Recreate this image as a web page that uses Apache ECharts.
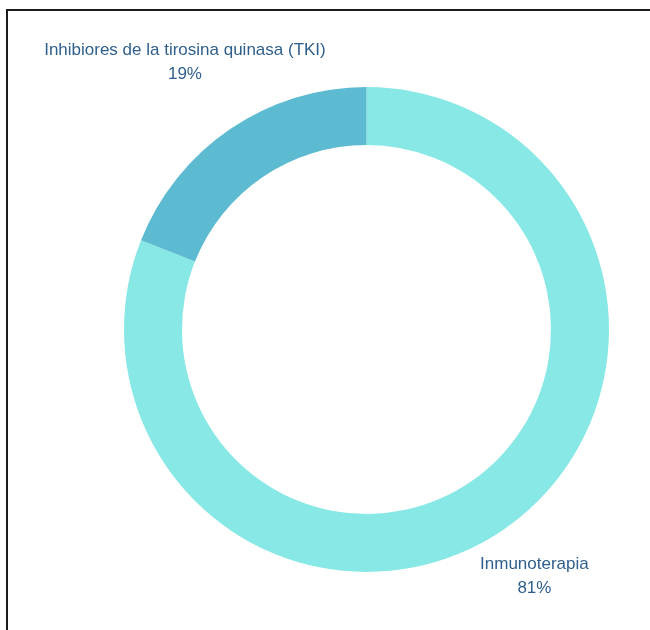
<!DOCTYPE html>
<html>
<head>
<meta charset="utf-8">
<script src="https://cdn.jsdelivr.net/npm/echarts@6/dist/echarts.min.js"></script>
<style>
  html, body { margin: 0; padding: 0; background: #fff; }
  #frame {
    position: absolute; left: 6px; top: 9px; width: 650px; height: 630px;
    border-top: 2px solid #1c1c1c; border-left: 2px solid #1c1c1c;
  }
  #chart { position: absolute; left: 0; top: 0; width: 650px; height: 630px; }
</style>
</head>
<body>
<div id="frame"></div>
<div id="chart"></div>
<script>
// Treatment split shown as a donut
const categories = ['Inmunoterapia', 'Inhibiores de la tirosina quinasa (TKI)'];
const shares = [81, 19];
const sliceColors = ['#87E8E6', '#5DBBD1'];

const CX = 366.5, CY = 329.5, R_OUT = 242.5, R_IN = 184.5;
const total = shares.reduce((a, b) => a + b, 0);

// Mid angle (radians, math convention) of each slice, clockwise from 12 o'clock
function midAngle(i) {
  let before = 0;
  for (let k = 0; k < i; k++) before += shares[k];
  const frac = (before + shares[i] / 2) / total;
  return Math.PI / 2 - frac * 2 * Math.PI;
}

const chart = echarts.init(document.getElementById('chart'), null, { renderer: 'canvas' });
chart.setOption({
  animation: false,
  series: [{
    type: 'pie',
    center: [CX, CY],
    radius: [R_IN, R_OUT],
    startAngle: 90,
    clockwise: true,
    avoidLabelOverlap: false,
    label: {
      show: true,
      position: 'outside',
      formatter: '{b}\n{d}%',
      color: '#2F5F8C',
      fontFamily: 'Liberation Sans, Arial, sans-serif',
      fontSize: 17,
      lineHeight: 24,
      align: 'center'
    },
    labelLine: { show: false },
    labelLayout: function (p) {
      const a = midAngle(p.dataIndex);
      const dx = Math.cos(a), dy = -Math.sin(a);
      const w = p.labelRect.width, h = p.labelRect.height;
      const proj = Math.abs(dx) * w / 2 + Math.abs(dy) * h / 2;
      const d = R_OUT + proj / 2 + 31;
      return { x: CX + dx * d, y: CY + dy * d, align: 'center', verticalAlign: 'middle' };
    },
    emphasis: { disabled: true },
    data: categories.map((name, i) => ({
      name: name,
      value: shares[i],
      itemStyle: { color: sliceColors[i] }
    }))
  }]
});
</script>
</body>
</html>
